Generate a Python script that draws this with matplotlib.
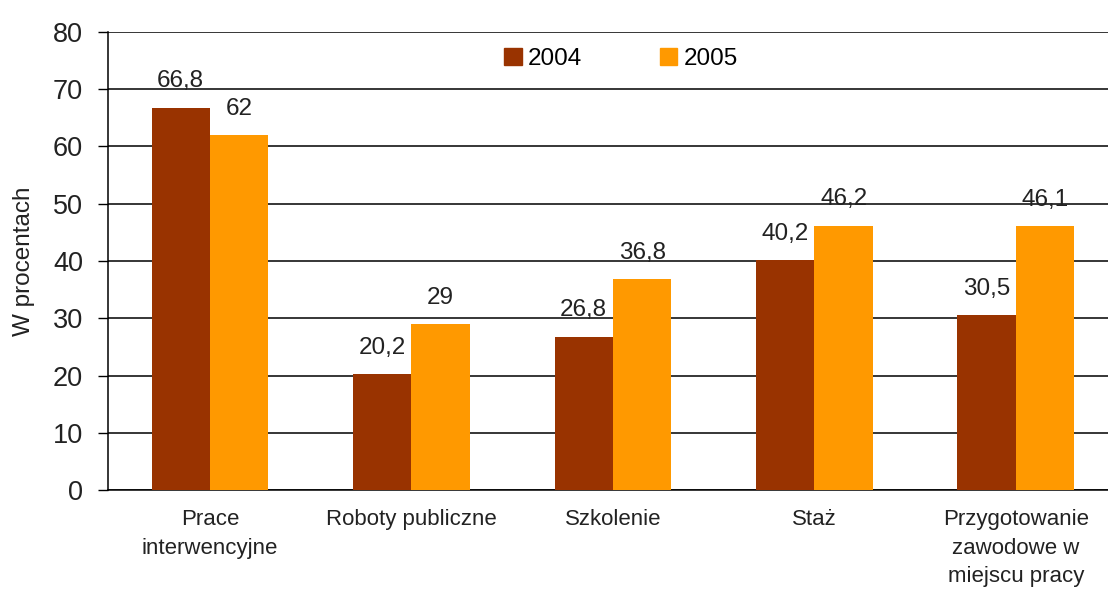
import numpy as np
import matplotlib
matplotlib.use("Agg")
import matplotlib.pyplot as plt
from matplotlib.patches import Patch

plt.rcParams["font.family"] = ["Liberation Sans", "DejaVu Sans"]

# dane
categories = ["Prace\ninterwencyjne", "Roboty publiczne", "Szkolenie", "Staż",
              "Przygotowanie\nzawodowe w\nmiejscu pracy"]
values_2004 = [66.8, 20.2, 26.8, 40.2, 30.5]
values_2005 = [62.0, 29.0, 36.8, 46.2, 46.1]
labels_2004 = ["66,8", "20,2", "26,8", "40,2", "30,5"]
labels_2005 = ["62", "29", "36,8", "46,2", "46,1"]
series_names = ["2004", "2005"]
yticks = [0, 10, 20, 30, 40, 50, 60, 70, 80]

colors = ["#993300", "#FF9900"]
width = 0.29

fig = plt.figure(figsize=(11.08, 5.90), dpi=100)
ax = fig.add_axes([108 / 1108, 1 - 490 / 590, 1 - 108 / 1108, 458 / 590])

x = np.arange(len(categories))
ax.bar(x - width / 2, values_2004, width, color=colors[0], zorder=3)
ax.bar(x + width / 2, values_2005, width, color=colors[1], zorder=3)

# etykiety wartosci
for xi, v, lab in zip(x - width / 2, values_2004, labels_2004):
    ax.annotate(lab, (xi, v), xytext=(0, 14.5), textcoords="offset points",
                ha="center", va="baseline", fontsize=17.5, color="#222222")
for xi, v, lab in zip(x + width / 2, values_2005, labels_2005):
    ax.annotate(lab, (xi, v), xytext=(0, 14.5), textcoords="offset points",
                ha="center", va="baseline", fontsize=17.5, color="#222222")

ax.set_ylim(0, 80)
ax.set_xlim(-0.506, 4.457)
ax.set_yticks(yticks)
ax.set_xticks(x)
ax.set_xticklabels(categories, fontsize=16, linespacing=1.45, color="#222222")
ax.tick_params(axis="x", length=0, pad=14)
ax.tick_params(axis="y", length=7, width=1, pad=11, labelsize=19.5,
               labelcolor="#222222", direction="out")

ax.grid(axis="y", color="black", linewidth=1.1, zorder=0)
for s in ["top", "right"]:
    ax.spines[s].set_visible(False)
ax.spines["left"].set_linewidth(1.1)
ax.spines["bottom"].set_linewidth(1.1)

ax.set_ylabel("W procentach", fontsize=17.5, color="#222222", va="center")
ax.yaxis.set_label_coords((24 - 108) / 997, 0.5)

handles = [Patch(color=c) for c in colors]
leg = ax.legend(handles, series_names, loc="center", bbox_to_anchor=(0.513, 0.941),
                ncol=2, frameon=False, fontsize=17.5, handlelength=0.72,
                handleheight=0.72, handletextpad=0.25, columnspacing=3.2)

fig.savefig("out.png", dpi=100)
